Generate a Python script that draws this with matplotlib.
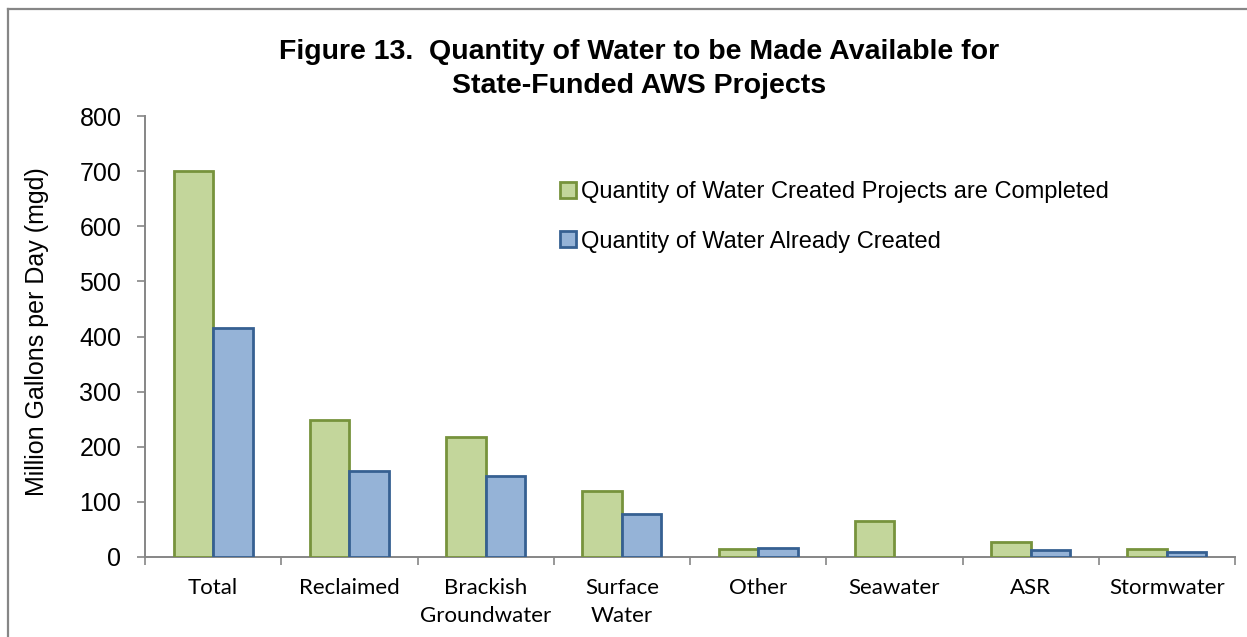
import matplotlib
matplotlib.use('Agg')
import matplotlib.pyplot as plt
from matplotlib.lines import Line2D
import numpy as np

categories = ['Total', 'Reclaimed', 'Brackish\nGroundwater', 'Surface\nWater',
              'Other', 'Seawater', 'ASR', 'Stormwater']
completed = [700, 249, 217, 120, 14, 65, 27, 14]
created = [415, 155, 147, 78, 15, 0, 13, 8]
yticks = [0, 100, 200, 300, 400, 500, 600, 700, 800]

green_fill, green_edge = '#C3D69B', '#77933C'
blue_fill, blue_edge = '#95B3D7', '#366092'
grey = '#868686'

plt.rcParams['font.family'] = ['Liberation Sans', 'DejaVu Sans']

fig = plt.figure(figsize=(12.47, 6.37), dpi=100)
W, H = 1247., 637.

# outer frame, only top and left edges show
fig.add_artist(Line2D([8/W, 8/W], [0, 1-9/H], color=grey, lw=1.6, transform=fig.transFigure))
fig.add_artist(Line2D([8/W, 1], [1-9/H, 1-9/H], color=grey, lw=1.6, transform=fig.transFigure))

ax = fig.add_axes([145/W, (H-556.7)/H, (1235-145)/W, (556.7-116.3)/H])

x = np.arange(len(categories))
bw = 0.29
lw_c = [2 if v > 0 else 0 for v in completed]
lw_a = [2 if v > 0 else 0 for v in created]
ax.bar(x - bw/2, completed, bw, color=green_fill, edgecolor=green_edge, linewidth=lw_c,
       label='Quantity of Water Created Projects are Completed', zorder=3)
ax.bar(x + bw/2, created, bw, color=blue_fill, edgecolor=blue_edge, linewidth=lw_a,
       label='Quantity of Water Already Created', zorder=3)

ax.set_xlim(-0.5, len(categories) - 0.5)
ax.set_ylim(0, 800)
ax.set_yticks(yticks)
ax.tick_params(axis='y', labelsize=18, length=6, width=1.2, color=grey, pad=11)

# category labels at centres, tick marks at boundaries
ax.set_xticks(x)
ax.set_xticklabels(categories, family=['Lato', 'DejaVu Sans'], fontsize=16, linespacing=1.55)
ax.tick_params(axis='x', which='major', length=0, pad=15)
ax.set_xticks(np.arange(-0.5, len(categories)), minor=True)
ax.tick_params(axis='x', which='minor', length=6, width=1.2, color=grey)

for s in ['top', 'right']:
    ax.spines[s].set_visible(False)
for s in ['left', 'bottom']:
    ax.spines[s].set_color(grey)
    ax.spines[s].set_linewidth(1.4)

ax.set_ylabel('Million Gallons per Day (mgd)', fontsize=18)
ax.yaxis.set_label_coords(-(145-49)/(1235-145), 0.51)

fig.text(639/W, 1-69/H, 'Figure 13.  Quantity of Water to be Made Available for\nState-Funded AWS Projects',
         ha='center', va='center', fontsize=20.5, fontweight='bold', linespacing=1.42)

leg = ax.legend(loc='upper left', bbox_to_anchor=((551-145)/(1235-145), (556.7-172)/(556.7-116.3)),
                frameon=False, fontsize=17, handlelength=0.65, handleheight=0.65,
                handletextpad=0.2, labelspacing=1.15, borderaxespad=0)

fig.savefig('out.png', dpi=100)
